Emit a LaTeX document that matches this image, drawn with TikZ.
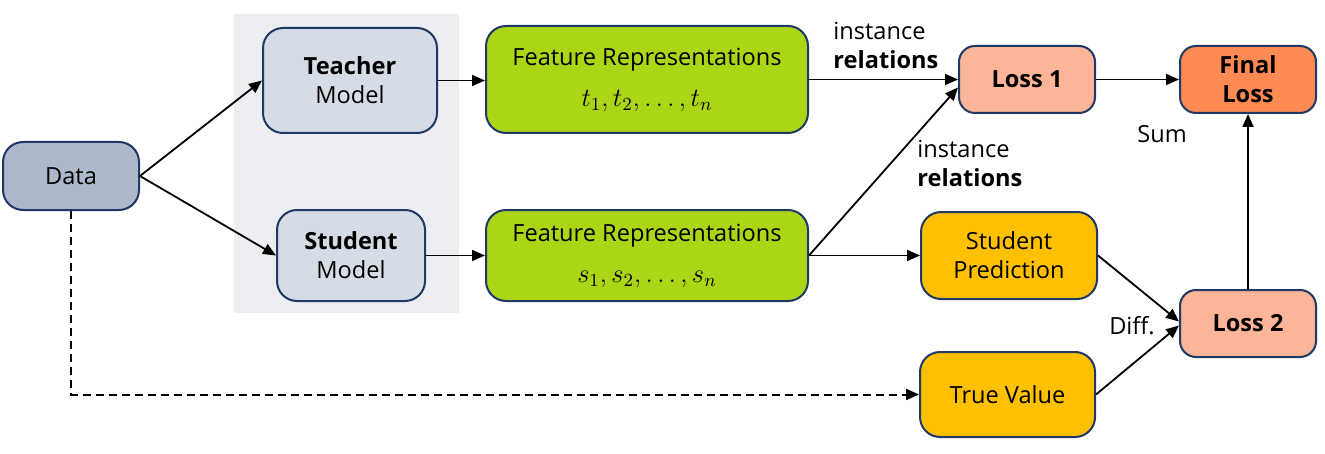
\RequirePackage{fix-cm}
\documentclass[tikz,border=0pt]{standalone}
\usepackage{fontspec}
\setmainfont{Open Sans}
\usetikzlibrary{arrows.meta}
\definecolor{bd}{HTML}{1F3864}
\definecolor{cdata}{HTML}{ADB9CA}
\definecolor{cmodel}{HTML}{D6DCE5}
\definecolor{cfeat}{HTML}{ABD615}
\definecolor{closs}{HTML}{FCB598}
\definecolor{cfinal}{HTML}{FD8A52}
\definecolor{cpred}{HTML}{FFC000}
\definecolor{cbg}{HTML}{ECEEF2}
\newcommand\fsz{\fontsize{11.8}{14.5}\selectfont}
\newcommand\mfsz{\fontsize{13.2}{15}\selectfont}
\tikzset{
  box/.style={draw=bd, line width=1pt, rounded corners=10pt, align=center, inner sep=0pt, font=\fsz},
  smallbox/.style={box, rounded corners=8pt},
  arr/.style={line width=0.9pt, -{Triangle[length=6.5pt,width=5.5pt]}},
  lbl/.style={font=\fsz, align=left, inner sep=0pt},
}
\begin{document}
\begin{tikzpicture}[x=0.5pt,y=-0.5pt]
\useasboundingbox (0,0) rectangle (1325,454);
\fill[cbg] (234,14) rectangle (459,313);
\node[box, fill=cdata, minimum width=68pt, minimum height=34pt] (data) at (71,176) {Data};
\node[box, fill=cmodel, minimum width=87pt, minimum height=52.5pt] (teacher) at (350,80.5) {\textbf{Teacher}\\Model};
\node[box, fill=cmodel, minimum width=74pt, minimum height=45.5pt] (student) at (351,255.5) {\textbf{Student}\\Model};
\node[box, fill=cfeat, minimum width=161pt, minimum height=53.5pt] (f1) at (647,79.5) {Feature Representations\\[6pt]{\mfsz$t_1, t_2, \dots, t_n$}};
\node[box, fill=cfeat, minimum width=161pt, minimum height=45.5pt] (f2) at (647,255.5) {Feature Representations\\[6pt]{\mfsz$s_1, s_2, \dots, s_n$}};
\node[smallbox, fill=closs, minimum width=68pt, minimum height=33.5pt] (l1) at (1027,79.5) {\textbf{Loss 1}};
\node[smallbox, fill=cfinal, minimum width=68pt, minimum height=33.5pt] (final) at (1248,79.5) {\textbf{Final}\\\textbf{Loss}};
\node[box, fill=cpred, minimum width=88pt, minimum height=43.5pt] (pred) at (1009,255.5) {Student\\Prediction};
\node[smallbox, fill=closs, minimum width=68pt, minimum height=33.5pt] (l2) at (1248,323.5) {\textbf{Loss 2}};
\node[box, fill=cpred, minimum width=87.5pt, minimum height=42.5pt] (tv) at (1007.5,394.5) {True Value};
\node[lbl, anchor=west] (rel1) at (833,45) {instance\\\textbf{relations}};
\node[lbl, anchor=west] (rel2) at (917,163) {instance\\\textbf{relations}};
\node[lbl] (sum) at (1162,134) {Sum};
\node[lbl] (diff) at (1132,326) {Diff.};
\draw[arr] (data.east) -- (teacher.west);
\draw[arr] (data.east) -- (student.west);
\draw[arr] (teacher.east) -- (teacher.east -| f1.west);
\draw[arr] (student.east) -- (f2.west);
\draw[arr] (f1.east) -- (f1.east -| l1.west);
\draw[arr] (f2.east) -- ([yshift=-4pt]l1.west);
\draw[arr] (f2.east) -- (pred.west);
\draw[arr] (l1.east) -- (final.west);
\draw[arr] (pred.east) -- ([yshift=1pt]l2.west);
\draw[arr] (tv.east) -- ([yshift=-1pt]l2.west);
\draw[arr] (l2.north) -- (final.south);
\draw[arr, line width=1pt, dash pattern=on 4pt off 2.5pt] (data.south) |- (tv.west);
\end{tikzpicture}
\end{document}
